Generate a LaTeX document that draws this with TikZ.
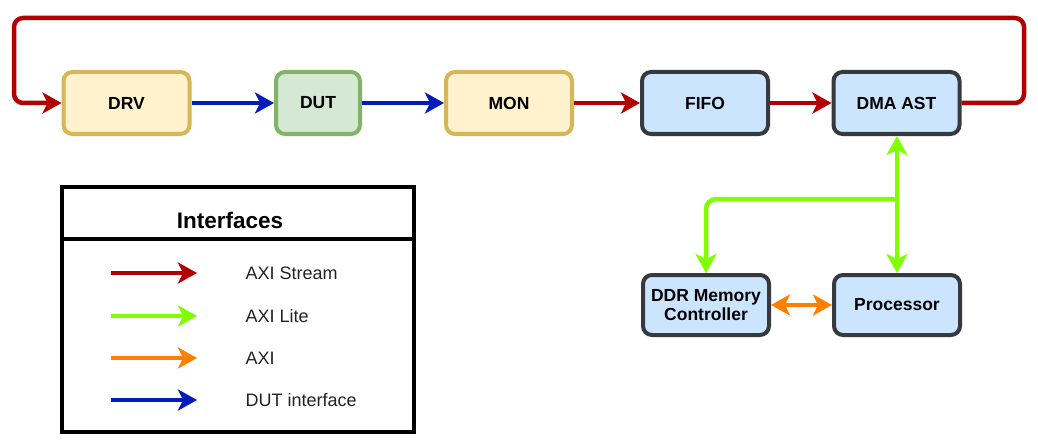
\documentclass[tikz,border=0pt]{standalone}
\usepackage{fontspec}
\setmainfont{Liberation Sans}
\usetikzlibrary{arrows.meta}
\definecolor{cred}{HTML}{B20000}
\definecolor{cblue}{HTML}{001DBC}
\definecolor{cgreen}{HTML}{80FF00}
\definecolor{corange}{HTML}{FF8000}
\definecolor{yfill}{HTML}{FFF2CC}
\definecolor{ydraw}{HTML}{D6B656}
\definecolor{gfill}{HTML}{D5E8D4}
\definecolor{gdraw}{HTML}{82B366}
\definecolor{bfill}{HTML}{CCE5FF}
\definecolor{bdraw}{HTML}{36393D}
\definecolor{ltext}{HTML}{222222}
\begin{document}
\begin{tikzpicture}[x=1pt,y=-1pt,
  blk/.style={rounded corners=9pt, line width=4pt, minimum width=126pt, minimum height=62pt, inner sep=0pt, align=center, font=\fontsize{17.5pt}{21pt}\selectfont\bfseries},
  yel/.style={blk, fill=yfill, draw=ydraw},
  grn/.style={blk, fill=gfill, draw=gdraw, minimum width=84pt},
  blu/.style={blk, fill=bfill, draw=bdraw},
  tip/.style={-{Stealth[length=19pt, width=21pt, inset=5pt]}},
  dtip/.style={{Stealth[length=19pt, width=21pt, inset=5pt]}-{Stealth[length=19pt, width=21pt, inset=5pt]}},
  conn/.style={line width=4.5pt},
  leg/.style={line width=3.5pt, tip},
  legtext/.style={anchor=west, text=ltext, font=\fontsize{18pt}{21pt}\selectfont},
]
\useasboundingbox (0,0) rectangle (1038,441);
% blocks
\node[yel] (drv) at (126.5,103) {DRV};
\node[grn] (dut) at (318,103) {DUT};
\node[yel] (mon) at (509,103) {MON};
\node[blu] (fifo) at (705,103) {FIFO};
\node[blu] (dma) at (896.5,103) {DMA AST};
\node[blu, minimum height=60pt] (ddr) at (706,305) {DDR Memory\\[-2pt]Controller};
\node[blu, minimum height=60pt] (proc) at (897,305) {Processor};
% connectors
\draw[conn, cblue, tip] (drv) -- (dut);
\draw[conn, cblue, tip] (dut) -- (mon);
\draw[conn, cred, tip] (mon) -- (fifo);
\draw[conn, cred, tip] (fifo) -- (dma);
\coordinate (loopR) at (1024,18);
\coordinate (loopL) at (14,18);
\draw[conn, cred, tip, rounded corners=9pt] (dma.east) -| (loopR) -- (loopL) |- (drv.west);
\draw[conn, cgreen, dtip] (dma.south -| proc.north) -- (proc.north);
\coordinate (branch) at (897,199);
\draw[conn, cgreen, tip, rounded corners=10pt] (branch) -| (ddr.north);
\draw[conn, corange, dtip] (ddr) -- (proc);
% legend
\draw[line width=3.5pt] (62,187) rectangle (414,432);
\draw[line width=3.5pt] (62,239) -- (416,239);
\node[font=\fontsize{22.5pt}{26pt}\selectfont\bfseries] (ltitle) at (230,220) {Interfaces};
\coordinate (a1) at (111,273); \coordinate (b1) at (197,273);
\coordinate (a2) at (111,316); \coordinate (b2) at (197,316);
\coordinate (a3) at (111,358); \coordinate (b3) at (197,358);
\coordinate (a4) at (111,400); \coordinate (b4) at (197,400);
\draw[leg, cred] (a1) -- (b1);
\draw[leg, cgreen] (a2) -- (b2);
\draw[leg, corange] (a3) -- (b3);
\draw[leg, cblue] (a4) -- (b4);
\node[legtext] (t1) at (242,273) {AXI Stream};
\node[legtext] (t2) at (242,316) {AXI Lite};
\node[legtext] (t3) at (242,358) {AXI};
\node[legtext] (t4) at (242,400) {DUT interface};
\end{tikzpicture}
\end{document}
